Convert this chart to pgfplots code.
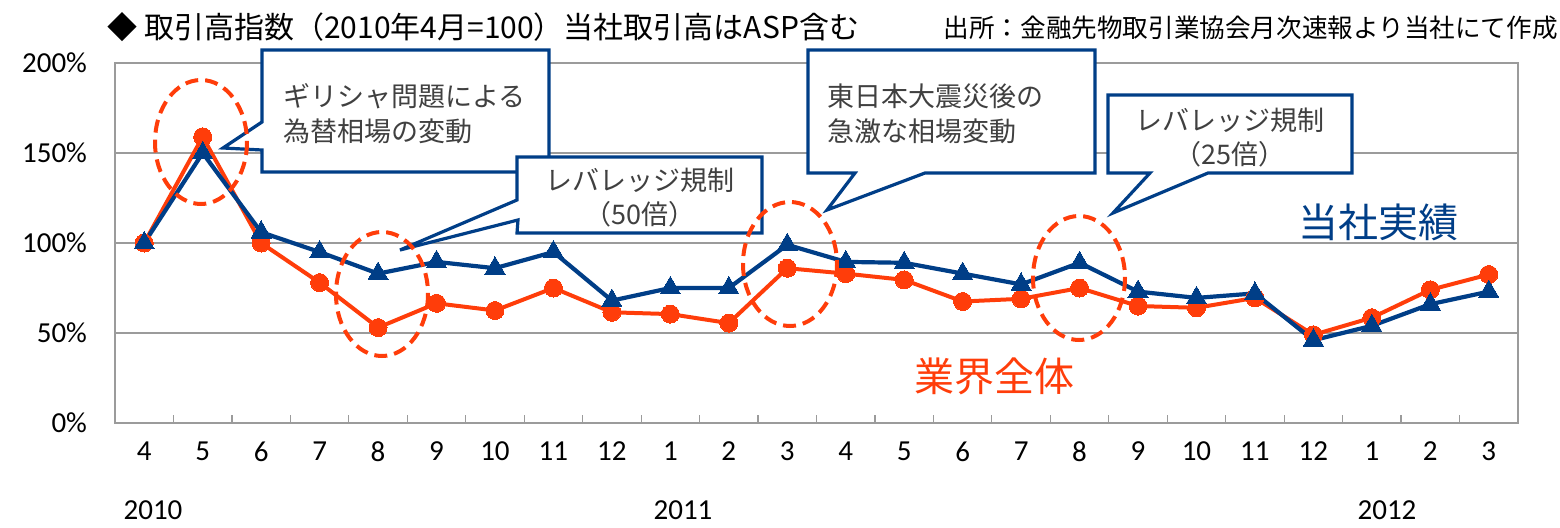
\documentclass[border=0pt]{standalone}
\usepackage{fontspec}
\usepackage{pgfplots}
\pgfplotsset{compat=1.18}
\setmainfont{Carlito}
\newfontfamily\jp{Noto Sans CJK JP}
\definecolor{cblue}{RGB}{0,62,135}
\definecolor{corange}{RGB}{255,61,10}
\definecolor{cgrid}{RGB}{155,155,155}
\definecolor{ctext}{RGB}{64,64,64}

\pgfplotstableread{
x blue orange
0 100 100
1 150 159
2 106 100
3 95 78
4 83 53
5 89.5 66.5
6 86 62.5
7 95 75
8 68 61.5
9 75 60.5
10 75 55.5
11 99 86
12 89.5 83
13 89 79.5
14 83 67.5
15 77 69
16 89 75
17 73 65
18 69.5 64
19 72 69.5
20 46 49
21 54 58.5
22 66 74
23 73 82.5
}\datatable

\begin{document}
\begin{tikzpicture}[x=1pt,y=1pt]
\useasboundingbox (0,0) rectangle (780,263.5);
\begin{axis}[
  at={(57.5pt,52pt)}, anchor=south west,
  scale only axis, width=701.5pt, height=180pt,
  xmin=-0.5, xmax=23.5, ymin=0, ymax=200,
  ytick={0,50,...,200},
  yticklabel={\pgfmathprintnumber{\tick}\%},
  xtick={0,...,23},
  xticklabels={4,5,6,7,8,9,10,11,12,1,2,3,4,5,6,7,8,9,10,11,12,1,2,3},
  minor xtick={-0.5,0.5,...,23.5},
  major tick length=0pt, minor tick length=4pt,
  tick align=inside,
  xtick pos=bottom, ytick pos=left,
  ymajorgrids,
  major grid style={cgrid, line width=0.75pt},
  axis line style={cgrid, line width=0.75pt},
  minor tick style={cgrid, line width=0.6pt},
  /pgf/number format/assume math mode=true,
  ticklabel style={font=\fontsize{14.5}{16}\selectfont, text=black},
  yticklabel style={xshift=-10.5pt},
  xticklabel style={yshift=-6pt},
  clip=false,
]
\addplot[corange, line width=2pt, mark=*, mark size=4.5pt, mark options={solid, fill=corange, draw=corange, line width=0pt}] table[x=x, y=orange] {\datatable};
\addplot[cblue, line width=2.1pt, mark=triangle*, mark size=5.8pt, mark options={solid, fill=cblue, draw=cblue, line width=0pt}] table[x=x, y=blue] {\datatable};
\end{axis}

\begin{scope}[shift={(0pt,263.5pt)}, x=0.5pt, y=-0.5pt]
% year labels
\node[font=\fontsize{14.5}{16}\selectfont] at (153,510) {2010};
\node[font=\fontsize{14.5}{16}\selectfont] at (683,510) {2011};
\node[font=\fontsize{14.5}{16}\selectfont] at (1387,510) {2012};
% titles
\node[anchor=west, inner sep=0pt, font=\jp\fontsize{15}{17}\selectfont, text=black] at (107,27) {◆ 取引高指数（2010年4月=100）当社取引高はASP含む};
\node[anchor=east, inner sep=0pt, font=\jp\fontsize{12.8}{14}\selectfont, text=black] at (1558,28) {出所：金融先物取引業協会月次速報より当社にて作成};
% callouts
\draw[cblue, line width=1.6pt, fill=white, line join=miter]
  (262,50) -- (549,50) -- (549,172) -- (262,172) -- (262,150) -- (223,148) -- (262,122) -- cycle;
\draw[cblue, line width=1.6pt, fill=white, line join=miter]
  (517,157) -- (762,157) -- (762,233) -- (517,233) -- (518,220) -- (400,250) -- (517,200) -- cycle;
\draw[cblue, line width=1.6pt, fill=white, line join=miter]
  (808,50) -- (1095,50) -- (1095,173) -- (925,173) -- (827,210) -- (855,173) -- (808,173) -- cycle;
\draw[cblue, line width=1.6pt, fill=white, line join=miter]
  (1108,95) -- (1352,95) -- (1352,173) -- (1208,173) -- (1113,213) -- (1150,173) -- (1108,173) -- cycle;
% callout texts
\begin{scope}[every node/.style={inner sep=0pt, font=\jp\fontsize{13.5}{15}\selectfont, text=ctext}]
\node[anchor=west] at (283,96) {ギリシャ問題による};
\node[anchor=west] at (283,131) {為替相場の変動};
\node at (640,180) {レバレッジ規制};
\node at (640,214) {（50倍）};
\node[anchor=west] at (827,96) {東日本大震災後の};
\node[anchor=west] at (827,131) {急激な相場変動};
\node at (1230,120) {レバレッジ規制};
\node at (1230,154) {（25倍）};
\end{scope}
% ellipses
\begin{scope}[corange, line width=2pt, dash pattern=on 6.5pt off 3.5pt]
\draw (201,142) ellipse [x radius=46, y radius=62];
\draw (382,294) ellipse [x radius=46, y radius=62];
\draw (790,264) ellipse [x radius=47, y radius=62];
\draw (1079,278) ellipse [x radius=46, y radius=62];
\end{scope}
% series labels
\node[font=\jp\fontsize{20}{22}\selectfont, text=cblue] at (1378,222) {当社実績};
\node[font=\jp\fontsize{20}{22}\selectfont, text=corange] at (994,376) {業界全体};
\end{scope}
\end{tikzpicture}
\end{document}
